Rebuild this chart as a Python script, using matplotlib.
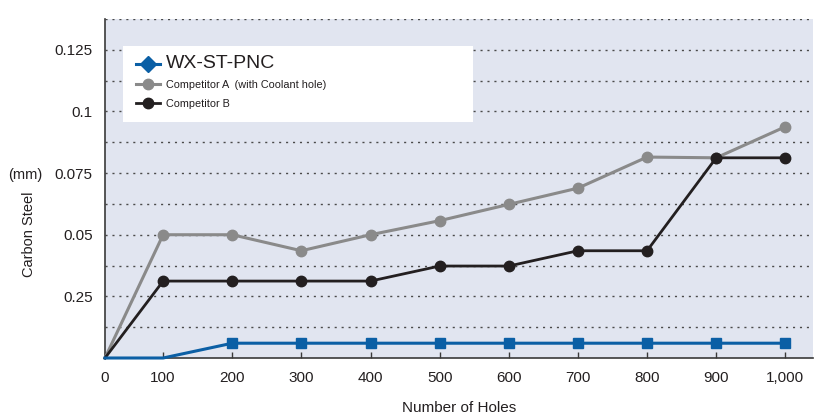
import numpy as np
import matplotlib
matplotlib.use("Agg")
import matplotlib.pyplot as plt
from matplotlib.patches import Rectangle
from matplotlib.lines import Line2D
from matplotlib import font_manager

# ---- data ----
holes = [0, 100, 200, 300, 400, 500, 600, 700, 800, 900, 1000]
wx_st_pnc = [0, 0, 0.006, 0.006, 0.006, 0.006, 0.006, 0.006, 0.006, 0.006, 0.006]
competitor_a = [0, 0.050, 0.050, 0.0435, 0.050, 0.0557, 0.0623, 0.0689, 0.0815, 0.0812, 0.0938]
competitor_b = [0, 0.0312, 0.0312, 0.0312, 0.0312, 0.0373, 0.0373, 0.0435, 0.0435, 0.0812, 0.0812]
x_tick_labels = ["0", "100", "200", "300", "400", "500", "600", "700", "800", "900", "1,000"]
y_ticks = [0.025, 0.05, 0.075, 0.1, 0.125]
y_tick_labels = ["0.25", "0.05", "0.075", "0.1", "0.125"]
series_names = ["WX-ST-PNC", "Competitor A  (with Coolant hole)", "Competitor B"]

# ---- fonts ----
avail = {f.name for f in font_manager.fontManager.ttflist}
base = "Liberation Sans Narrow" if "Liberation Sans Narrow" in avail else "Liberation Sans"
plt.rcParams['font.family'] = [base, 'DejaVu Sans']

BLUE = "#0b5fa5"
GRAY = "#8a8a8a"
BLACK = "#231f20"
BG = "#e1e5f0"
TXT = "#231f20"

fig = plt.figure(figsize=(8.17, 4.19), dpi=100)
ax = fig.add_axes([105/817, (419-358)/419, (813-105)/817, (358-19)/419])
ax.set_facecolor(BG)

# piecewise x scale (first interval is drawn narrower in the reference)
r = 58/69
def fwd(x):
    x = np.asarray(x, dtype=float)
    return np.where(x < 100, x*r, 100*r + (x - 100))
def inv(y):
    y = np.asarray(y, dtype=float)
    return np.where(y < 100*r, y/r, y - 100*r + 100)
ax.set_xscale('function', functions=(fwd, inv))

ax.set_xlim(0, 1040)
ax.set_ylim(0, 0.1375)

ax.plot(holes, competitor_a, color=GRAY, lw=2.2, marker='o', ms=7.5,
        markevery=list(range(1, len(holes))), zorder=4, clip_on=False)
ax.plot(holes, competitor_b, color=BLACK, lw=2.0, marker='o', ms=7.5,
        markevery=list(range(1, len(holes))), zorder=5, clip_on=False)
ax.plot(holes, wx_st_pnc, color=BLUE, lw=2.2, marker='s', ms=7.5,
        markevery=list(range(2, len(holes))), zorder=6, clip_on=False)

# ticks
ax.set_xticks(holes)
ax.set_xticklabels(x_tick_labels)
ax.set_yticks(y_ticks)
ax.set_yticklabels(y_tick_labels)
ax.set_yticks(np.arange(1, 12, 2) * 0.0125, minor=True)
ax.tick_params(axis='x', direction='in', length=4, width=1, color='#3a3a3a',
               pad=9, labelsize=11, labelcolor=TXT)
ax.tick_params(axis='y', which='both', length=0, pad=9, labelsize=11, labelcolor=TXT)
ax.tick_params(axis='x', which='minor', length=0)
ax.grid(True, axis='y', which='both', color='#4a4a4a', lw=1.0, ls=(0, (1.5, 3.5)))
ax.grid(False, axis='x')
ax.set_axisbelow(True)

for s in ['top', 'right']:
    ax.spines[s].set_visible(False)
for s in ['left', 'bottom']:
    ax.spines[s].set_color('#3a3a3a')
    ax.spines[s].set_linewidth(1.2)

ax.set_xlabel("Number of Holes", fontsize=11, color=TXT, labelpad=12)
fig.text(29/817, 1 - 234/419, "Carbon Steel", rotation=90, ha='center', va='center',
         fontsize=10.5, color=TXT)
fig.text(25/817, 1 - 175/419, "(mm)", ha='center', va='center', fontsize=10.5, color=TXT)

# legend box
ax.add_patch(Rectangle(((123-105)/708, 1 - (122-19)/339), (473-123)/708, (122-46)/339,
                       transform=ax.transAxes, facecolor='white', edgecolor='none', zorder=7))
handles = [
    Line2D([], [], color=BLUE, lw=2.2, marker='D', ms=8),
    Line2D([], [], color=GRAY, lw=2.2, marker='o', ms=7.5),
    Line2D([], [], color=BLACK, lw=2.0, marker='o', ms=7.5),
]
leg = ax.legend(handles, series_names, loc='upper left',
                bbox_to_anchor=((128-105)/708, 1 - (47-19)/339),
                frameon=False, fontsize=7.8, handlelength=2.3, handletextpad=0.5,
                labelspacing=0.8, borderpad=0.2)
leg.set_zorder(8)
texts = leg.get_texts()
texts[0].set_fontsize(14)
for t in texts:
    t.set_color(TXT)

fig.savefig("out.png", dpi=100, facecolor='white')
